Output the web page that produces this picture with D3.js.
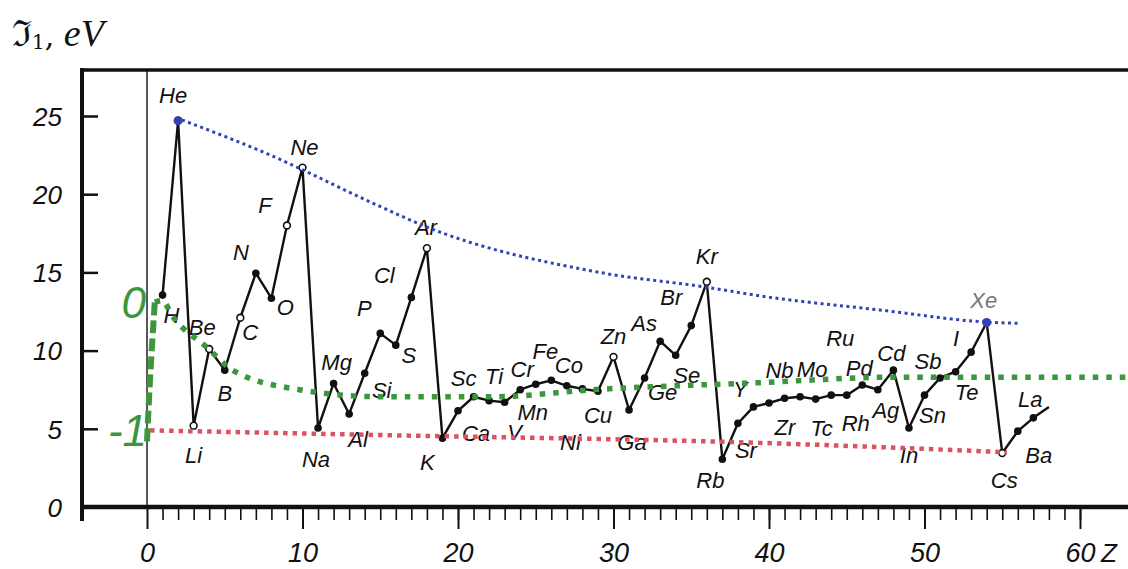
<!DOCTYPE html>
<html>
<head>
<meta charset="utf-8">
<script src="https://cdn.jsdelivr.net/npm/d3@7"></script>
<style>
  body { margin: 0; background: #fff; }
  svg { display: block; }
</style>
</head>
<body>
<script>
// element symbols, Z = index + 1 (last one only continues the line)
const symbols = ["H","He","Li","Be","B","C","N","O","F","Ne",
  "Na","Mg","Al","Si","P","S","Cl","Ar","K","Ca",
  "Sc","Ti","V","Cr","Mn","Fe","Co","Ni","Cu","Zn",
  "Ga","Ge","As","Se","Br","Kr","Rb","Sr","Y","Zr",
  "Nb","Mo","Tc","Ru","Rh","Pd","Ag","Cd","In","Sn",
  "Sb","Te","I","Xe","Cs","Ba","La",""]

// first ionisation energy, eV
const energy = [13.55,24.7,5.2,10.1,8.75,12.1,14.95,13.35,18.0,21.7,
  5.05,7.9,5.95,8.55,11.1,10.35,13.4,16.55,4.4,6.15,
  7.05,6.8,6.7,7.5,7.85,8.1,7.75,7.55,7.4,9.6,
  6.2,8.25,10.6,9.7,11.6,14.4,3.05,5.35,6.4,6.65,
  6.95,7.05,6.9,7.15,7.15,7.8,7.5,8.75,5.05,7.15,
  8.25,8.65,9.9,11.8,3.45,4.85,5.7,6.4]

const openMarks = ["He","Li","Be","C","F","Ne","Ar","Kr","Zn","Cs"]
const blueMarks = ["He","Xe"]

const yTicks = [0,5,10,15,20,25]
const xTicks = [0,10,20,30,40,50,60]

// hand drawn guide curves  [Z, eV]
const upperCurve = [[2.25,24.75],[7.7,22.6],[14.8,19.3],[18,17.9],[29.1,15.0],[36,14.05],[39.4,13.5],[47.1,12.6],[54.4,11.8],[56,11.75]]
const middleRise = [[0,4.2],[0.2,8.5],[0.5,13.1]]
const middleCurve = [[0.5,13.1],[0.96,13.2],[1.67,12.15],[3.86,10.2],[5.5,8.75],[9.8,7.5],[15,7.05],[22.3,7.05],[28.7,7.5],[39.4,7.95],[48,8.3],[63,8.3]]
const lowerCurve = [[0.2,4.9],[15,4.6],[39.4,4.1],[55.3,3.5]]

// label centre relative to its point, px
const labelShift = {
  H:[9,20], He:[-5,-25], Li:[0,30], Be:[-7,-22], B:[0,23], C:[10,15], N:[-15,-21], O:[14,9], F:[-22,-20], Ne:[2,-20],
  Na:[-2,31], Mg:[3,-21], Al:[9,26], Si:[17,17], P:[-16,-25], S:[13,10], Cl:[-27,-22], Ar:[-1,-21], K:[-15,24], Ca:[18,23],
  Sc:[-10,-18], Ti:[5,-24], V:[10,30], Cr:[2,-20], Mn:[-3,28], Fe:[-6,-29], Co:[2,-20], Ni:[-12,54], Cu:[0,24], Zn:[0,-20],
  Ga:[3,32], Ge:[18,15], As:[-16,-18], Se:[11,20], Br:[-20,-28], Kr:[0,-25], Rb:[-12,21], Sr:[8,27], Y:[-13,-17], Zr:[16,25],
  Nb:[-5,-28], Mo:[12,-27], Tc:[6,29], Ru:[9,-57], Rh:[9,28], Pd:[-3,-17], Ag:[8,21], Cd:[-2,-17], In:[0,27], Sn:[8,20],
  Sb:[-12,-16], Te:[11,21], I:[-15,-14], Xe:[-3,-22], Cs:[2,27], Ba:[21,24], La:[-3,-18]
}

const [width, height] = [1128, 569]
const colors = {
  ink: "#111",
  blue: "#3042b4",
  green: "#3c963c",
  red: "#dc5262",
  faded: "#777"
}
const frame = {left: 82, top: 70, bottom: 507, right: 1128}

const points = symbols.map((s, i) => ({z: i + 1, s: s, e: energy[i]}))

const x = d3.scaleLinear().domain([0, 60]).range([147, 1080])
const y = d3.scaleLinear().domain([0, 25]).range([frame.bottom, 116])

const svg = d3.select("body").append("svg")
  .attr("width", width)
  .attr("height", height)
  .style("font-family", "'Liberation Sans', Arial, sans-serif")

// frame
svg.append("line")
  .attr("x1", frame.left).attr("x2", frame.right)
  .attr("y1", frame.top).attr("y2", frame.top)
  .attr("stroke", colors.ink).attr("stroke-width", 3.5)
svg.append("line")
  .attr("x1", frame.left).attr("x2", frame.left)
  .attr("y1", frame.top - 2).attr("y2", frame.bottom + 14)
  .attr("stroke", colors.ink).attr("stroke-width", 4)
svg.append("line")   // Z = 0
  .attr("x1", x(0)).attr("x2", x(0))
  .attr("y1", frame.top).attr("y2", frame.bottom)
  .attr("stroke", colors.ink).attr("stroke-width", 1.4)

// y axis, ticks pointing inward
const yAxis = svg.append("g")
  .attr("transform", `translate(${frame.left},0)`)
  .call(d3.axisLeft(y).tickValues(yTicks).tickSize(-16).tickPadding(20))
yAxis.select(".domain").remove()
yAxis.selectAll(".tick line").attr("stroke", colors.ink).attr("stroke-width", 2.5)
yAxis.selectAll(".tick text")
  .attr("fill", colors.ink)
  .style("font-size", "26px").style("font-style", "italic")
  .attr("dy", "0.36em")

// x axis: minor ticks every Z, major every 10
const xMinor = svg.append("g")
  .attr("transform", `translate(0,${frame.bottom})`)
  .call(d3.axisBottom(x).tickValues(d3.range(1, 61)).tickSize(13).tickFormat(""))
xMinor.select(".domain").remove()
xMinor.selectAll(".tick line").attr("stroke", colors.ink).attr("stroke-width", 1.6)

const xAxis = svg.append("g")
  .attr("transform", `translate(0,${frame.bottom})`)
  .call(d3.axisBottom(x).tickValues(xTicks).tickSize(22).tickPadding(14))
xAxis.select(".domain").remove()
xAxis.selectAll(".tick line").attr("stroke", colors.ink).attr("stroke-width", 2)
xAxis.selectAll(".tick text")
  .attr("fill", colors.ink)
  .style("font-size", "27px").style("font-style", "italic")

svg.append("line")
  .attr("x1", frame.left).attr("x2", frame.right)
  .attr("y1", frame.bottom).attr("y2", frame.bottom)
  .attr("stroke", colors.ink).attr("stroke-width", 4.5)

svg.append("text")
  .attr("x", 1101).attr("y", 562)
  .attr("fill", colors.ink)
  .style("font-size", "26px").style("font-style", "italic")
  .text("Z")

// axis title
const title = svg.append("text")
  .attr("x", 12).attr("y", 46)
  .attr("fill", colors.ink)
  .style("font-family", "'DejaVu Serif', serif")
  .style("font-size", "36px")
title.append("tspan").text("ℑ")
title.append("tspan").attr("dy", 3).style("font-size", "20px").text("1")
title.append("tspan").attr("dy", -3).style("font-size", "30px").text(",")
title.append("tspan")
  .style("font-family", "'Liberation Serif', serif").style("font-style", "italic").style("font-size", "38px")
  .text(" eV")

// ionisation curve
const line = d3.line().x(d => x(d.z)).y(d => y(d.e))
svg.append("path")
  .datum(points)
  .attr("d", line)
  .attr("fill", "none")
  .attr("stroke", colors.ink)
  .attr("stroke-width", 2.4)
  .attr("stroke-linejoin", "round")

const marked = points.filter(d => d.s !== "")
svg.append("g").selectAll("circle")
  .data(marked)
  .join("circle")
    .attr("cx", d => x(d.z))
    .attr("cy", d => y(d.e))
    .attr("r", d => openMarks.includes(d.s) ? 3.4 : 3)
    .attr("fill", d => openMarks.includes(d.s) ? "#fff" : colors.ink)
    .attr("stroke", colors.ink)
    .attr("stroke-width", 1.6)

svg.append("g").selectAll("text")
  .data(marked)
  .join("text")
    .attr("x", d => x(d.z) + labelShift[d.s][0])
    .attr("y", d => y(d.e) + labelShift[d.s][1])
    .attr("text-anchor", "middle")
    .attr("dominant-baseline", "central")
    .attr("fill", d => d.s === "Xe" ? colors.faded : colors.ink)
    .style("font-size", "22px")
    .style("font-style", "italic")
    .text(d => d.s)

// guide curves
const guide = d3.line().x(d => x(d[0])).y(d => y(d[1])).curve(d3.curveMonotoneX)

svg.append("path").attr("d", guide(lowerCurve))
  .attr("fill", "none").attr("stroke", colors.red)
  .attr("stroke-width", 4.5).attr("stroke-dasharray", "4.5,5")

svg.append("path").attr("d", guide(middleCurve))
  .attr("fill", "none").attr("stroke", colors.green)
  .attr("stroke-width", 5.5).attr("stroke-dasharray", "5.5,8")

svg.append("path").attr("d", d3.line().x(d => x(d[0])).y(d => y(d[1])).curve(d3.curveBasis)(middleRise))
  .attr("fill", "none").attr("stroke", colors.green)
  .attr("stroke-width", 6).attr("stroke-dasharray", "13,5")

svg.append("path").attr("d", guide(upperCurve))
  .attr("fill", "none").attr("stroke", colors.blue)
  .attr("stroke-width", 3).attr("stroke-dasharray", "3,3.5")

svg.append("g").selectAll("circle")
  .data(points.filter(d => blueMarks.includes(d.s)))
  .join("circle")
    .attr("cx", d => x(d.z))
    .attr("cy", d => y(d.e))
    .attr("r", 4.5)
    .attr("fill", colors.blue)

// green level marks
svg.append("text")
  .attr("x", 146).attr("y", y(13.1) + 16)
  .attr("text-anchor", "end")
  .attr("fill", colors.green)
  .style("font-size", "44px").style("font-style", "italic")
  .text("0")
svg.append("text")
  .attr("x", 147).attr("y", y(4.9) + 16)
  .attr("text-anchor", "end")
  .attr("fill", colors.green)
  .style("font-size", "44px").style("font-style", "italic")
  .text("-1")
</script>
</body>
</html>
